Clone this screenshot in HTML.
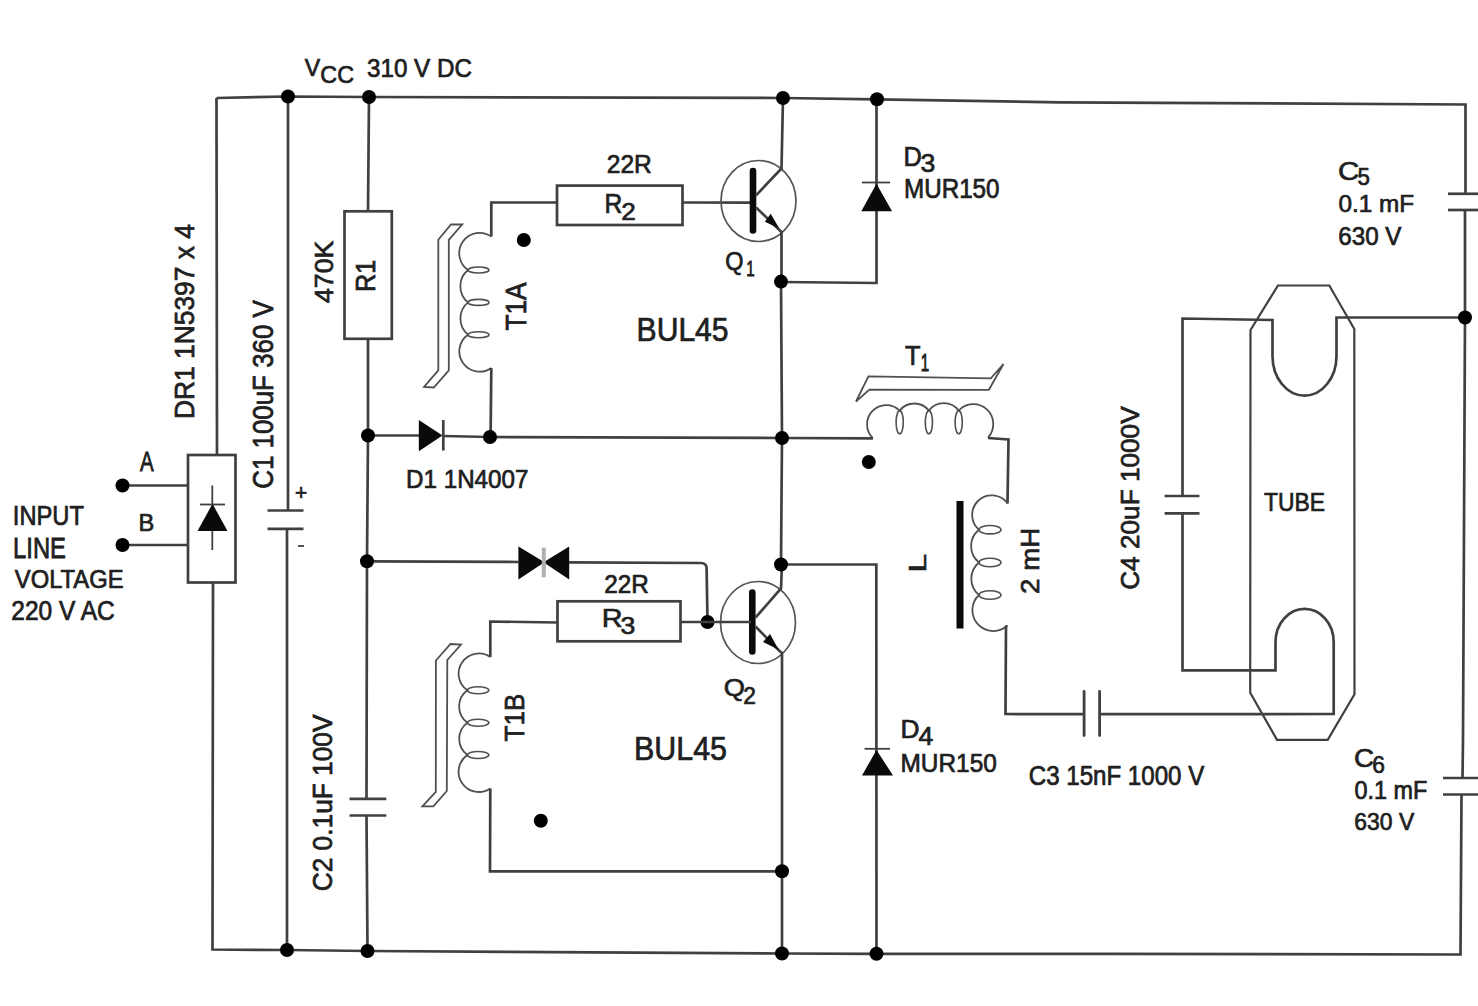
<!DOCTYPE html>
<html><head><meta charset="utf-8"><title>schematic</title>
<style>
html,body{margin:0;padding:0;background:#fff;width:1478px;height:1006px;overflow:hidden}
svg{display:block}
text{font-family:"Liberation Sans",sans-serif;font-size:100px;fill:#202020;stroke:#202020}
</style></head><body>
<svg width="1478" height="1006" viewBox="0 0 1478 1006">
<rect width="1478" height="1006" fill="#fff"/>
<g>
<style>.w,.w2{fill:none;stroke:#404040;stroke-width:2.7;stroke-linejoin:miter}.thin{fill:none;stroke:#404040;stroke-width:1.8}.fill{fill:#0a0a0a;stroke:none}.plate{fill:none;stroke:#404040;stroke-width:2.8;stroke-linecap:round}.bar{fill:none;stroke:#0a0a0a;stroke-width:6.6;stroke-linecap:round}.coil{fill:none;stroke:#505050;stroke-width:1.8}.ell{fill:none;stroke:#505050;stroke-width:1.6}.circ{fill:none;stroke:#555;stroke-width:1.7}.core{fill:none;stroke:#505050;stroke-width:1.8;stroke-linejoin:miter}.gbar{fill:none;stroke:#b0b0b0;stroke-width:4}.tube{fill:none;stroke:#404040;stroke-width:2.2}</style>
<path class="w" d="M216.5,98 L288,96.5 L369,97 L783,98 L877,99.3 L1060,102.3 L1160,102.8 L1465.5,104.5 L1465.5,194"/>
<path class="w" d="M1465,210 L1465,317.5 L1463,740 L1462.5,778"/>
<path class="w" d="M1461.5,794.5 L1460.5,954.5 L1108,953.8 L876,953.8 L782,953.5 L367.5,951 L287,950 L212.5,949.5 L213,582.5"/>
<path class="w" d="M217,455 L216.5,98"/>
<path class="w" d="M1448,193.8 L1478,193.8"/>
<path class="w" d="M1448,210 L1478,210"/>
<path class="w" d="M1443,778 L1478,778"/>
<path class="w" d="M1443,794.5 L1478,794.5"/>
<path class="w" d="M288,96.5 L288,510.5"/>
<path class="w" d="M287,528.8 L287,950"/>
<path class="w" d="M267.5,510.5 L303.5,510.5"/>
<path class="w" d="M267.5,528.8 L303.5,528.8"/>
<path class="thin" d="M298,546 L304,546"/>
<path class="w" d="M369,97 L368,211.3"/>
<rect class="w" x="344.5" y="211.3" width="47.3" height="127.5"/>
<path class="w" d="M368,338.8 L368,435.5 L367,561 L366.5,798.8"/>
<path class="w" d="M366.5,815.5 L367.5,951"/>
<path class="w" d="M349.5,798.8 L386.3,798.8"/>
<path class="w" d="M349.5,815.5 L386.3,815.5"/>
<rect class="w" x="188" y="455" width="47.5" height="127.5"/>
<path class="w" d="M122.5,485.5 L188,485.5"/>
<path class="w" d="M122.5,545 L188,545"/>
<circle cx="122.5" cy="485.5" r="7" fill="#000"/>
<circle cx="122.5" cy="545" r="7" fill="#000"/>
<path class="thin" d="M212.3,485.5 L212.3,550"/>
<polygon class="fill" points="197.5,531 227.5,531 212.5,503.8"/>
<path class="thin" d="M200,504.5 L225,504.5"/>
<path class="w" d="M368,435.5 L419,435.5"/>
<polygon class="fill" points="418.8,420 418.8,451.3 442.5,435.6"/>
<path class="w" d="M443.3,420 L443.3,450.5"/>
<path class="w" d="M443,436 L490,437 L782,438 L873,438.4"/>
<path class="w" d="M557,202.5 L491.3,202.5 L491.3,236.5"/>
<path class="coil" d="M491.3,236.5 A17,17 0 1 0 468,270 A21,21 0 0 0 468,302.4 A21,21 0 0 0 468,334.7 A17,17 0 1 0 491.3,368"/>
<ellipse class="ell" cx="478.5" cy="270" rx="10.5" ry="3"/>
<ellipse class="ell" cx="478.5" cy="302.4" rx="10.5" ry="3"/>
<ellipse class="ell" cx="478.5" cy="334.7" rx="10.5" ry="3"/>
<path class="w" d="M491.3,368 L490.6,435.5"/>
<rect class="w" x="557" y="185.6" width="125.5" height="39.4"/>
<path class="w" d="M682.5,202.5 L752,202.6"/>
<polygon class="core" points="438.3,370.3 424,387 433.8,387.5 448.8,370.3 448.8,239.8 462.2,224.5 451,224.5 438.3,239.8"/>
<circle cx="523.8" cy="240" r="7" fill="#000"/>
<ellipse class="circ" cx="758.5" cy="201" rx="37.5" ry="40.5"/>
<path class="bar" d="M753,171 L753,230.5"/>
<path class="w" d="M756,195.4 L781.5,168.5 L783,98"/>
<path class="w" d="M756,207.4 L781.5,232 L781.5,281.6"/>
<polygon class="fill" points="764.9,221.8 770.7,213.7 779.3,228.5"/>
<path class="w" d="M781,281.6 L782,438 L781,564.5"/>
<path class="w" d="M876.5,99.3 L876.5,283 L781,282"/>
<polygon class="fill" points="876.5,183.8 861.3,211.3 892,211.3"/>
<path class="thin" d="M862,182.5 L890,182.5"/>
<path class="w" d="M781,564.5 L876.3,564.5 L876.5,953.8"/>
<path class="thin" d="M864.5,748.8 L890,748.8"/>
<polygon class="fill" points="876.5,750 862,775.5 893,775.5"/>
<ellipse class="circ" cx="758" cy="622.5" rx="37.5" ry="41"/>
<path class="bar" d="M752.3,592.5 L752.3,651.5"/>
<path class="w" d="M755.5,617.6 L781,588.5 L782,564.5"/>
<path class="w" d="M755.5,626.5 L779.5,651 L782,653 L782,871.3 L782,953.5"/>
<polygon class="fill" points="763,642 770,634 778.5,649.5"/>
<path class="w" d="M367,561.3 L518.5,562"/>
<polygon class="fill" points="518.4,546.4 518.4,579.4 544.5,562.2"/>
<polygon class="fill" points="569.2,546.4 569.2,579.4 543.5,562.2"/>
<path class="gbar" d="M543.8,547.7 L543.8,577.3"/>
<path class="w" d="M569,562.4 L701,563 Q706.5,563 706.6,568.5 L707.5,622"/>
<circle cx="707.5" cy="622" r="7" fill="#000"/>
<path class="w" d="M680.5,622 L751,622"/>
<rect class="w" x="557.5" y="601.3" width="123" height="40"/>
<path class="w" d="M557.5,622.5 L490.3,621.5 L490.3,657"/>
<path class="coil" d="M490.3,657 A17,17 0 1 0 467.4,690.3 A20,20 0 0 0 467.4,722.7 A20,20 0 0 0 467.4,755 A17,17 0 1 0 490.3,788.4"/>
<ellipse class="ell" cx="478.1" cy="690.3" rx="10.7" ry="3.5"/>
<ellipse class="ell" cx="478.1" cy="722.7" rx="10.7" ry="3.5"/>
<ellipse class="ell" cx="478.1" cy="755" rx="10.7" ry="3.5"/>
<path class="w" d="M490.3,788.4 L490,871.3 L782,871.3"/>
<polygon class="core" points="435.8,791.9 422.4,806.4 433.4,806.4 446.8,791 447.3,660 461,644.5 450.5,644 435.9,660.5"/>
<circle cx="540.8" cy="820.8" r="7" fill="#000"/>
<path class="coil" d="M872.9,438.2 A19,19 0 1 1 899.7,410.6 A18.6,18.6 0 0 1 928.9,410.6 A18.6,18.6 0 0 1 958.7,410.6 A19,19 0 1 1 988,437.6"/>
<ellipse class="ell" cx="899.7" cy="422.2" rx="3.6" ry="11.6"/>
<ellipse class="ell" cx="928.9" cy="422.2" rx="3.6" ry="11.6"/>
<ellipse class="ell" cx="958.7" cy="422.2" rx="3.6" ry="11.6"/>
<polygon class="core" points="856,401.5 868.4,376.4 990.8,378.3 1003.5,364 988.9,389.8 869.4,389.6"/>
<circle cx="868.8" cy="462" r="7" fill="#000"/>
<path class="w" d="M988,438 L1008.5,439.5 L1007.5,503.5"/>
<rect class="fill" x="956.5" y="501" width="7" height="127.5"/>
<path class="coil" d="M1007.5,503.5 A19.5,19.5 0 1 0 979,529.7 A21,21 0 0 0 979,562.5 A21,21 0 0 0 979,595 A19.5,19.5 0 1 0 1007.5,625.4"/>
<ellipse class="ell" cx="990" cy="529.7" rx="11" ry="4.2"/>
<ellipse class="ell" cx="990" cy="562.5" rx="11" ry="4.2"/>
<ellipse class="ell" cx="990" cy="595" rx="11" ry="4.2"/>
<path class="w" d="M1006,625.4 L1005.5,714 L1084,714.2"/>
<path class="plate" d="M1084.1,691.5 L1084.1,735.5"/>
<path class="plate" d="M1099.6,691.5 L1099.6,735.5"/>
<path class="w" d="M1099.6,714.2 L1333.7,714 L1333.7,642"/>
<path class="w2" d="M1333.7,642 A29,33 0 0 0 1275.5,642 L1275.5,670.4 L1182.5,670.4 L1182.5,513.3"/>
<path class="w" d="M1164.6,496 L1199.5,496"/>
<path class="w" d="M1164.6,513.3 L1199.5,513.3"/>
<path class="w2" d="M1182.5,496 L1182.5,318.5 L1272.5,320 L1272.5,356 A31.5,39 0 0 0 1336.5,356 L1336.5,317.5 L1465,317.5"/>
<circle cx="1465" cy="317.5" r="7" fill="#000"/>
<polygon class="tube" points="1278,285.5 1329.3,285.5 1354.3,329 1354.5,694.2 1327.7,739.8 1277,739.8 1250.2,692.7 1250.5,330"/>
<circle cx="288" cy="96.5" r="7" fill="#000"/>
<circle cx="369" cy="97" r="7" fill="#000"/>
<circle cx="783" cy="98" r="7" fill="#000"/>
<circle cx="877" cy="99.3" r="7" fill="#000"/>
<circle cx="368" cy="435.5" r="7" fill="#000"/>
<circle cx="490" cy="437" r="7" fill="#000"/>
<circle cx="782" cy="438" r="7" fill="#000"/>
<circle cx="781" cy="281.6" r="7" fill="#000"/>
<circle cx="367" cy="561.3" r="7" fill="#000"/>
<circle cx="781" cy="564.5" r="7" fill="#000"/>
<circle cx="287" cy="950" r="7" fill="#000"/>
<circle cx="367.5" cy="951" r="7" fill="#000"/>
<circle cx="782" cy="953.5" r="7" fill="#000"/>
<circle cx="876.5" cy="953.8" r="7" fill="#000"/>
<circle cx="782" cy="871.3" r="7" fill="#000"/>
<g>
<text transform="matrix(0.231,0,0,0.246,304.769,75.5)" stroke-width="2.934">V</text>
<text transform="matrix(0.233,0,0,0.246,320.333,82.754)" stroke-width="2.918">CC</text>
<text transform="matrix(0.242,0,0,0.254,367.031,76.746)" stroke-width="2.823">310 V DC</text>
<text transform="matrix(0.246,0,0,0.264,606.772,172.5)" stroke-width="2.745">22R</text>
<text transform="matrix(0.246,0,0,0.272,604.534,212.772)" stroke-width="2.704">R</text>
<text transform="matrix(0.261,0,0,0.236,621.196,219.5)" stroke-width="2.819">2</text>
<text transform="matrix(0.254,0,0,0.275,903.466,166)" stroke-width="2.644">D</text>
<text transform="matrix(0.266,0,0,0.254,920.436,171.746)" stroke-width="2.695">3</text>
<text transform="matrix(0.242,0,0,0.268,904.068,197.732)" stroke-width="2.75">MUR150</text>
<text transform="matrix(0.235,0,0,0.257,725.324,270)" stroke-width="2.843">Q</text>
<text transform="matrix(0.151,0,0,0.217,746.291,275.5)" stroke-width="3.799">1</text>
<text transform="matrix(0.294,0,0,0.261,1338.032,179.739)" stroke-width="2.526">C</text>
<text transform="matrix(0.223,0,0,0.236,1357.606,184.764)" stroke-width="3.049">5</text>
<text transform="matrix(0.243,0,0,0.246,1338.53,212.254)" stroke-width="2.863">0.1 mF</text>
<text transform="matrix(0.242,0,0,0.261,1338.289,244.739)" stroke-width="2.785">630 V</text>
<text transform="matrix(0.301,0,0,0.336,636.592,340.664)" stroke-width="2.199">BUL45</text>
<text transform="matrix(0.254,0,0,0.268,904.991,365)" stroke-width="2.679">T</text>
<text transform="matrix(0.151,0,0,0.232,920.791,371)" stroke-width="3.655">1</text>
<text transform="matrix(0.242,0,0,0.261,406.061,488.239)" stroke-width="2.784">D1 1N4007</text>
<text transform="matrix(0.205,0,0,0.268,140,471)" stroke-width="2.962">A</text>
<text transform="matrix(0.236,0,0,0.246,138.613,531)" stroke-width="2.903">B</text>
<text transform="matrix(0.237,0,0,0.271,12.867,524.729)" stroke-width="2.753">INPUT</text>
<text transform="matrix(0.238,0,0,0.29,13.095,557.5)" stroke-width="2.652">LINE</text>
<text transform="matrix(0.238,0,0,0.261,14.762,588.239)" stroke-width="2.809">VOLTAGE</text>
<text transform="matrix(0.245,0,0,0.268,11.277,619.732)" stroke-width="2.734">220 V AC</text>
<text transform="matrix(0.243,0,0,0.25,604.286,592.5)" stroke-width="2.841">22R</text>
<text transform="matrix(0.288,0,0,0.265,601.695,627.265)" stroke-width="2.532">R</text>
<text transform="matrix(0.266,0,0,0.239,620.436,633.761)" stroke-width="2.77">3</text>
<text transform="matrix(0.272,0,0,0.236,723.64,695.5)" stroke-width="2.757">Q</text>
<text transform="matrix(0.228,0,0,0.236,743.359,703.5)" stroke-width="3.017">2</text>
<text transform="matrix(0.304,0,0,0.336,634.065,759.664)" stroke-width="2.187">BUL45</text>
<text transform="matrix(0.263,0,0,0.254,900.398,737.5)" stroke-width="2.711">D</text>
<text transform="matrix(0.265,0,0,0.25,918.471,745.25)" stroke-width="2.72">4</text>
<text transform="matrix(0.244,0,0,0.261,900.547,772.239)" stroke-width="2.774">MUR150</text>
<text transform="matrix(0.241,0,0,0.268,1028.797,784.732)" stroke-width="2.754">C3 15nF 1000 V</text>
<text transform="matrix(0.229,0,0,0.264,1264.042,510.736)" stroke-width="2.839">TUBE</text>
<text transform="matrix(0.278,0,0,0.261,1354.111,767.239)" stroke-width="2.601">C</text>
<text transform="matrix(0.228,0,0,0.232,1372.359,773.268)" stroke-width="3.039">6</text>
<text transform="matrix(0.234,0,0,0.254,1354.563,799.246)" stroke-width="2.87">0.1 mF</text>
<text transform="matrix(0.229,0,0,0.246,1354.357,829.754)" stroke-width="2.947">630 V</text>
<text transform="matrix(0.208,0,0,0.224,294.958,500.02)" stroke-width="3.235">+</text>
<text transform="matrix(0,-0.264,0.275,0,193.725,419.11)" stroke-width="2.6">DR1 1N5397 x 4</text>
<text transform="matrix(0,-0.259,0.289,0,273.211,488.797)" stroke-width="2.554">C1 100uF 360 V</text>
<text transform="matrix(0,-0.267,0.254,0,333.246,303.035)" stroke-width="2.688">470K</text>
<text transform="matrix(0,-0.252,0.275,0,375,292.017)" stroke-width="2.654">R1</text>
<text transform="matrix(0,-0.262,0.29,0,526,330.525)" stroke-width="2.535">T1A</text>
<text transform="matrix(0,-0.261,0.268,0,523.5,741.523)" stroke-width="2.644">T1B</text>
<text transform="matrix(0,-0.263,0.275,0,332.225,891.316)" stroke-width="2.603">C2 0.1uF 100V</text>
<text transform="matrix(0,-0.341,0.246,0,926,572.727)" stroke-width="2.384">L</text>
<text transform="matrix(0,-0.277,0.25,0,1039,593.883)" stroke-width="2.659">2 mH</text>
<text transform="matrix(0,-0.262,0.261,0,1138.739,589.809)" stroke-width="2.68">C4 20uF 1000V</text>
</g>
</g>
</svg>
</body></html>
